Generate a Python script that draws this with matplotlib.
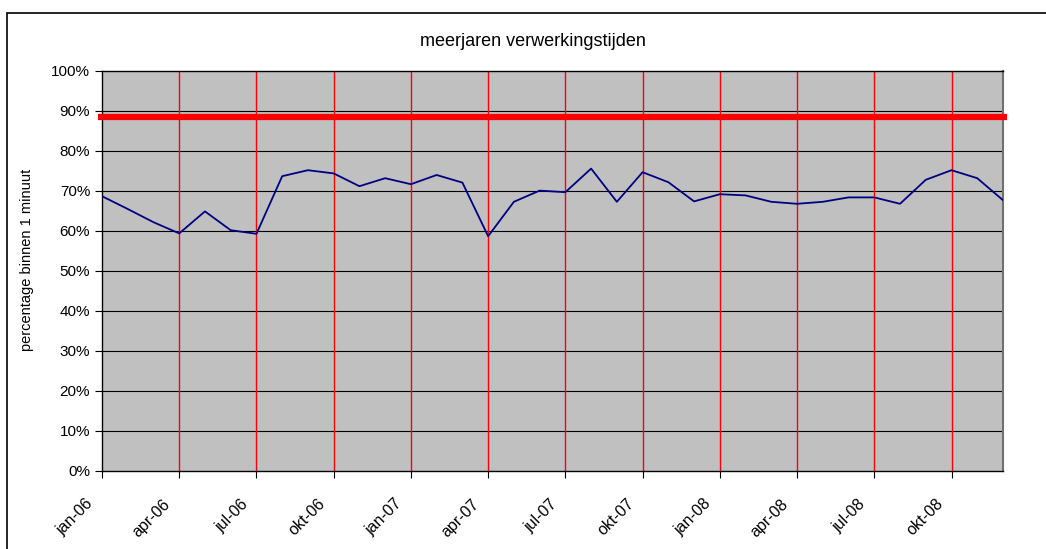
import matplotlib.pyplot as plt
from matplotlib.patches import Rectangle
from matplotlib.ticker import FuncFormatter
from matplotlib.transforms import ScaledTranslation

plt.rcParams["font.family"] = ["Liberation Sans", "DejaVu Sans"]

# monthly share of calls handled within 1 minute, jan-06 .. dec-08
months = list(range(36))
percentage = [68.7, 65.5, 62.2, 59.4, 64.9, 60.2, 59.3, 73.7, 75.2, 74.4, 71.2, 73.2,
              71.7, 74.0, 72.1, 58.7, 67.3, 70.1, 69.7, 75.6, 67.3, 74.7, 72.2, 67.4,
              69.2, 68.9, 67.3, 66.8, 67.3, 68.4, 68.4, 66.8, 72.8, 75.2, 73.2, 67.7]
target = 88.6

tick_pos = list(range(0, 36, 3))
tick_labels = ["jan-06", "apr-06", "jul-06", "okt-06",
               "jan-07", "apr-07", "jul-07", "okt-07",
               "jan-08", "apr-08", "jul-08", "okt-08"]

fig = plt.figure(figsize=(10.46, 5.49), dpi=100)
W, H = 1046, 549

# outer chart frame (cut off at right and bottom like the original)
fig.patches.append(Rectangle((7 / W, -0.1), 1.2, (H - 13) / H + 0.1,
                             transform=fig.transFigure, fill=False,
                             edgecolor="black", lw=1.2))

ax = fig.add_axes([102 / W, 78 / H, 901 / W, 400 / H])
ax.set_facecolor("#c0c0c0")

for y in range(10, 100, 10):
    ax.axhline(y, color="black", lw=0.8, zorder=1)
for x in tick_pos[1:]:
    ax.axvline(x, color="red", lw=1.0, zorder=2)

ax.plot(months, percentage, color="#000080", lw=1.3, zorder=3)
ax.plot([-0.15, 35.15], [target, target], color="red", lw=4.5,
        solid_capstyle="butt", zorder=4, clip_on=False)

ax.set_xlim(0, 35)
ax.set_ylim(0, 100)
ax.set_yticks(range(0, 101, 10))
ax.yaxis.set_major_formatter(FuncFormatter(lambda v, p: f"{int(v)}%"))
ax.set_xticks(tick_pos)
ax.set_xticklabels(tick_labels, rotation=45, ha="right", va="center",
                   rotation_mode="anchor")
ax.tick_params(axis="both", labelsize=11, length=5, width=0.8, direction="out")
ax.tick_params(axis="x", labelsize=11.5, pad=17)
shift = ScaledTranslation(-0.11, 0, fig.dpi_scale_trans)
for lbl in ax.get_xticklabels():
    lbl.set_transform(lbl.get_transform() + shift)

for s in ["left", "top", "bottom"]:
    ax.spines[s].set_color("black")
    ax.spines[s].set_linewidth(1.0)
ax.spines["right"].set_color("#707070")
ax.spines["right"].set_linewidth(1.5)

ax.set_ylabel("percentage binnen 1 minuut", fontsize=10.5)
ax.yaxis.set_label_coords(-(102 - 34) / 901, 0.5 + 11 / 400)
fig.text(533 / W, 1 - 42 / H, "meerjaren verwerkingstijden", ha="center",
         va="center", fontsize=13)

fig.savefig("out.png", dpi=100)
